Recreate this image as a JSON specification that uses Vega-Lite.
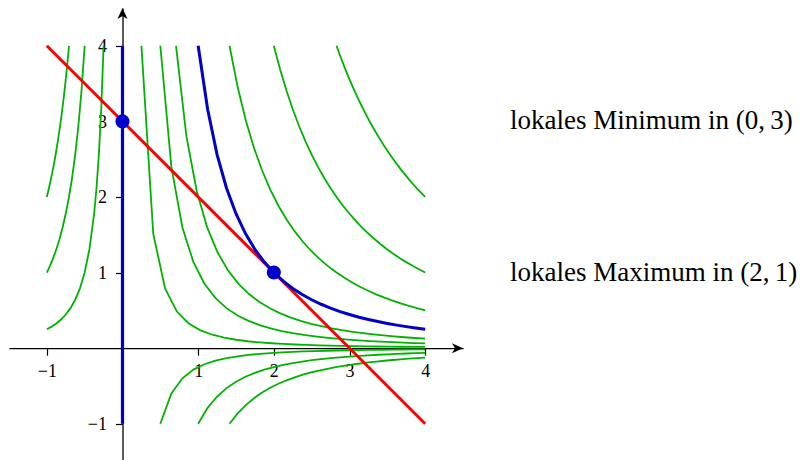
{
  "$schema": "https://vega.github.io/schema/vega-lite/v6.json",
  "width": 454,
  "height": 452,
  "autosize": {"type": "none"},
  "padding": {"left": 9, "top": 8, "right": 342, "bottom": 0},
  "background": "white",
  "config": {"view": {"stroke": null}, "font": "Liberation Serif"},
  "datasets": {
    "green": [
      {"id":"R0.25","x":0.25,"y":4},{"id":"R0.25","x":0.40625,"y":1.5148},{"id":"R0.25","x":0.5625,"y":0.7901},{"id":"R0.25","x":0.71875,"y":0.4839},{"id":"R0.25","x":0.875,"y":0.3265},{"id":"R0.25","x":1.03125,"y":0.2351},{"id":"R0.25","x":1.1875,"y":0.1773},{"id":"R0.25","x":1.34375,"y":0.1385},{"id":"R0.25","x":1.5,"y":0.1111},{"id":"R0.25","x":1.65625,"y":0.0911},{"id":"R0.25","x":1.8125,"y":0.0761},{"id":"R0.25","x":1.96875,"y":0.0645},{"id":"R0.25","x":2.125,"y":0.0554},{"id":"R0.25","x":2.28125,"y":0.048},{"id":"R0.25","x":2.4375,"y":0.0421},{"id":"R0.25","x":2.59375,"y":0.0372},{"id":"R0.25","x":2.75,"y":0.0331},{"id":"R0.25","x":2.90625,"y":0.0296},{"id":"R0.25","x":3.0625,"y":0.0267},{"id":"R0.25","x":3.21875,"y":0.0241},{"id":"R0.25","x":3.375,"y":0.0219},{"id":"R0.25","x":3.53125,"y":0.02},{"id":"R0.25","x":3.6875,"y":0.0184},{"id":"R0.25","x":3.84375,"y":0.0169},{"id":"R0.25","x":4,"y":0.0156},

      {"id":"R1","x":0.5,"y":4},{"id":"R1","x":0.6458,"y":2.3975},{"id":"R1","x":0.7917,"y":1.5956},{"id":"R1","x":0.9375,"y":1.1378},{"id":"R1","x":1.0833,"y":0.8521},{"id":"R1","x":1.2292,"y":0.6619},{"id":"R1","x":1.375,"y":0.5289},{"id":"R1","x":1.5208,"y":0.4323},{"id":"R1","x":1.6667,"y":0.36},{"id":"R1","x":1.8125,"y":0.3044},{"id":"R1","x":1.9583,"y":0.2608},{"id":"R1","x":2.1042,"y":0.2259},{"id":"R1","x":2.25,"y":0.1975},{"id":"R1","x":2.3958,"y":0.1742},{"id":"R1","x":2.5417,"y":0.1548},{"id":"R1","x":2.6875,"y":0.1385},{"id":"R1","x":2.8333,"y":0.1246},{"id":"R1","x":2.9792,"y":0.1127},{"id":"R1","x":3.125,"y":0.1024},{"id":"R1","x":3.2708,"y":0.0935},{"id":"R1","x":3.4167,"y":0.0857},{"id":"R1","x":3.5625,"y":0.0788},{"id":"R1","x":3.7083,"y":0.0727},{"id":"R1","x":3.8542,"y":0.0673},{"id":"R1","x":4,"y":0.0625},

      {"id":"N0.25","x":0.5,"y":-1},{"id":"N0.25","x":0.6458,"y":-0.5994},{"id":"N0.25","x":0.7917,"y":-0.3989},{"id":"N0.25","x":0.9375,"y":-0.2845},{"id":"N0.25","x":1.0833,"y":-0.213},{"id":"N0.25","x":1.2292,"y":-0.1655},{"id":"N0.25","x":1.375,"y":-0.1322},{"id":"N0.25","x":1.5208,"y":-0.1081},{"id":"N0.25","x":1.6667,"y":-0.09},{"id":"N0.25","x":1.8125,"y":-0.0761},{"id":"N0.25","x":1.9583,"y":-0.0652},{"id":"N0.25","x":2.1042,"y":-0.0565},{"id":"N0.25","x":2.25,"y":-0.0494},{"id":"N0.25","x":2.3958,"y":-0.0436},{"id":"N0.25","x":2.5417,"y":-0.0387},{"id":"N0.25","x":2.6875,"y":-0.0346},{"id":"N0.25","x":2.8333,"y":-0.0311},{"id":"N0.25","x":2.9792,"y":-0.0282},{"id":"N0.25","x":3.125,"y":-0.0256},{"id":"N0.25","x":3.2708,"y":-0.0234},{"id":"N0.25","x":3.4167,"y":-0.0214},{"id":"N0.25","x":3.5625,"y":-0.0197},{"id":"N0.25","x":3.7083,"y":-0.0182},{"id":"N0.25","x":3.8542,"y":-0.0168},{"id":"N0.25","x":4,"y":-0.0156},

      {"id":"R2","x":0.7071,"y":4},{"id":"R2","x":0.8443,"y":2.8056},{"id":"R2","x":0.9815,"y":2.076},{"id":"R2","x":1.1187,"y":1.598},{"id":"R2","x":1.2559,"y":1.2679},{"id":"R2","x":1.3931,"y":1.0305},{"id":"R2","x":1.5303,"y":0.854},{"id":"R2","x":1.6675,"y":0.7192},{"id":"R2","x":1.8047,"y":0.614},{"id":"R2","x":1.9419,"y":0.5303},{"id":"R2","x":2.0791,"y":0.4627},{"id":"R2","x":2.2164,"y":0.4072},{"id":"R2","x":2.3536,"y":0.3611},{"id":"R2","x":2.4908,"y":0.3224},{"id":"R2","x":2.628,"y":0.2896},{"id":"R2","x":2.7652,"y":0.2616},{"id":"R2","x":2.9024,"y":0.2374},{"id":"R2","x":3.0396,"y":0.2165},{"id":"R2","x":3.1768,"y":0.1982},{"id":"R2","x":3.314,"y":0.1821},{"id":"R2","x":3.4512,"y":0.1679},{"id":"R2","x":3.5884,"y":0.1553},{"id":"R2","x":3.7256,"y":0.1441},{"id":"R2","x":3.8628,"y":0.134},{"id":"R2","x":4,"y":0.125},

      {"id":"N1","x":1,"y":-1},{"id":"N1","x":1.125,"y":-0.7901},{"id":"N1","x":1.25,"y":-0.64},{"id":"N1","x":1.375,"y":-0.5289},{"id":"N1","x":1.5,"y":-0.4444},{"id":"N1","x":1.625,"y":-0.3787},{"id":"N1","x":1.75,"y":-0.3265},{"id":"N1","x":1.875,"y":-0.2844},{"id":"N1","x":2,"y":-0.25},{"id":"N1","x":2.125,"y":-0.2215},{"id":"N1","x":2.25,"y":-0.1975},{"id":"N1","x":2.375,"y":-0.1773},{"id":"N1","x":2.5,"y":-0.16},{"id":"N1","x":2.625,"y":-0.1451},{"id":"N1","x":2.75,"y":-0.1322},{"id":"N1","x":2.875,"y":-0.121},{"id":"N1","x":3,"y":-0.1111},{"id":"N1","x":3.125,"y":-0.1024},{"id":"N1","x":3.25,"y":-0.0947},{"id":"N1","x":3.375,"y":-0.0878},{"id":"N1","x":3.5,"y":-0.0816},{"id":"N1","x":3.625,"y":-0.0761},{"id":"N1","x":3.75,"y":-0.0711},{"id":"N1","x":3.875,"y":-0.0666},{"id":"N1","x":4,"y":-0.0625},

      {"id":"R8","x":1.4142,"y":4},{"id":"R8","x":1.522,"y":3.4537},{"id":"R8","x":1.6297,"y":3.0122},{"id":"R8","x":1.7374,"y":2.6502},{"id":"R8","x":1.8452,"y":2.3497},{"id":"R8","x":1.9529,"y":2.0976},{"id":"R8","x":2.0607,"y":1.884},{"id":"R8","x":2.1684,"y":1.7014},{"id":"R8","x":2.2761,"y":1.5442},{"id":"R8","x":2.3839,"y":1.4077},{"id":"R8","x":2.4916,"y":1.2886},{"id":"R8","x":2.5994,"y":1.184},{"id":"R8","x":2.7071,"y":1.0916},{"id":"R8","x":2.8149,"y":1.0097},{"id":"R8","x":2.9226,"y":0.9366},{"id":"R8","x":3.0303,"y":0.8712},{"id":"R8","x":3.1381,"y":0.8124},{"id":"R8","x":3.2458,"y":0.7594},{"id":"R8","x":3.3536,"y":0.7113},{"id":"R8","x":3.4613,"y":0.6677},{"id":"R8","x":3.569,"y":0.628},{"id":"R8","x":3.6768,"y":0.5918},{"id":"R8","x":3.7845,"y":0.5586},{"id":"R8","x":3.8923,"y":0.5281},{"id":"R8","x":4,"y":0.5},

      {"id":"N2","x":1.4142,"y":-1},{"id":"N2","x":1.522,"y":-0.8634},{"id":"N2","x":1.6297,"y":-0.753},{"id":"N2","x":1.7374,"y":-0.6625},{"id":"N2","x":1.8452,"y":-0.5874},{"id":"N2","x":1.9529,"y":-0.5244},{"id":"N2","x":2.0607,"y":-0.471},{"id":"N2","x":2.1684,"y":-0.4254},{"id":"N2","x":2.2761,"y":-0.386},{"id":"N2","x":2.3839,"y":-0.3519},{"id":"N2","x":2.4916,"y":-0.3222},{"id":"N2","x":2.5994,"y":-0.296},{"id":"N2","x":2.7071,"y":-0.2729},{"id":"N2","x":2.8149,"y":-0.2524},{"id":"N2","x":2.9226,"y":-0.2342},{"id":"N2","x":3.0303,"y":-0.2178},{"id":"N2","x":3.1381,"y":-0.2031},{"id":"N2","x":3.2458,"y":-0.1898},{"id":"N2","x":3.3536,"y":-0.1778},{"id":"N2","x":3.4613,"y":-0.1669},{"id":"N2","x":3.569,"y":-0.157},{"id":"N2","x":3.6768,"y":-0.1479},{"id":"N2","x":3.7845,"y":-0.1396},{"id":"N2","x":3.8923,"y":-0.132},{"id":"N2","x":4,"y":-0.125},

      {"id":"R16","x":2,"y":4},{"id":"R16","x":2.0833,"y":3.6864},{"id":"R16","x":2.1667,"y":3.4083},{"id":"R16","x":2.25,"y":3.1605},{"id":"R16","x":2.3333,"y":2.9388},{"id":"R16","x":2.4167,"y":2.7396},{"id":"R16","x":2.5,"y":2.56},{"id":"R16","x":2.5833,"y":2.3975},{"id":"R16","x":2.6667,"y":2.25},{"id":"R16","x":2.75,"y":2.1157},{"id":"R16","x":2.8333,"y":1.9931},{"id":"R16","x":2.9167,"y":1.8808},{"id":"R16","x":3,"y":1.7778},{"id":"R16","x":3.0833,"y":1.683},{"id":"R16","x":3.1667,"y":1.5956},{"id":"R16","x":3.25,"y":1.5148},{"id":"R16","x":3.3333,"y":1.44},{"id":"R16","x":3.4167,"y":1.3706},{"id":"R16","x":3.5,"y":1.3061},{"id":"R16","x":3.5833,"y":1.2461},{"id":"R16","x":3.6667,"y":1.1901},{"id":"R16","x":3.75,"y":1.1378},{"id":"R16","x":3.8333,"y":1.0888},{"id":"R16","x":3.9167,"y":1.043},{"id":"R16","x":4,"y":1},

      {"id":"R32","x":2.8284,"y":4},{"id":"R32","x":2.8773,"y":3.8654},{"id":"R32","x":2.9261,"y":3.7375},{"id":"R32","x":2.9749,"y":3.6159},{"id":"R32","x":3.0237,"y":3.5001},{"id":"R32","x":3.0725,"y":3.3897},{"id":"R32","x":3.1213,"y":3.2845},{"id":"R32","x":3.1701,"y":3.1841},{"id":"R32","x":3.219,"y":3.0883},{"id":"R32","x":3.2678,"y":2.9967},{"id":"R32","x":3.3166,"y":2.9092},{"id":"R32","x":3.3654,"y":2.8254},{"id":"R32","x":3.4142,"y":2.7452},{"id":"R32","x":3.463,"y":2.6683},{"id":"R32","x":3.5118,"y":2.5946},{"id":"R32","x":3.5607,"y":2.524},{"id":"R32","x":3.6095,"y":2.4562},{"id":"R32","x":3.6583,"y":2.3911},{"id":"R32","x":3.7071,"y":2.3285},{"id":"R32","x":3.7559,"y":2.2684},{"id":"R32","x":3.8047,"y":2.2106},{"id":"R32","x":3.8536,"y":2.1549},{"id":"R32","x":3.9024,"y":2.1013},{"id":"R32","x":3.9512,"y":2.0497},{"id":"R32","x":4,"y":2},

      {"id":"L0.25","x":-1,"y":0.25},{"id":"L0.25","x":-0.9375,"y":0.2844},{"id":"L0.25","x":-0.875,"y":0.3265},{"id":"L0.25","x":-0.8125,"y":0.3787},{"id":"L0.25","x":-0.75,"y":0.4444},{"id":"L0.25","x":-0.6875,"y":0.5289},{"id":"L0.25","x":-0.625,"y":0.64},{"id":"L0.25","x":-0.5625,"y":0.7901},{"id":"L0.25","x":-0.5,"y":1},{"id":"L0.25","x":-0.4375,"y":1.3061},{"id":"L0.25","x":-0.375,"y":1.7778},{"id":"L0.25","x":-0.34375,"y":2.1157},{"id":"L0.25","x":-0.3125,"y":2.56},{"id":"L0.25","x":-0.28125,"y":3.1605},{"id":"L0.25","x":-0.25,"y":4},

      {"id":"L1","x":-1,"y":1},{"id":"L1","x":-0.9583,"y":1.0888},{"id":"L1","x":-0.9167,"y":1.1901},{"id":"L1","x":-0.875,"y":1.3061},{"id":"L1","x":-0.8333,"y":1.44},{"id":"L1","x":-0.7917,"y":1.5956},{"id":"L1","x":-0.75,"y":1.7778},{"id":"L1","x":-0.7083,"y":1.9931},{"id":"L1","x":-0.6667,"y":2.25},{"id":"L1","x":-0.625,"y":2.56},{"id":"L1","x":-0.5833,"y":2.9388},{"id":"L1","x":-0.5417,"y":3.4083},{"id":"L1","x":-0.5,"y":4},

      {"id":"L2","x":-1,"y":2},{"id":"L2","x":-0.9756,"y":2.1013},{"id":"L2","x":-0.9512,"y":2.2106},{"id":"L2","x":-0.9268,"y":2.3285},{"id":"L2","x":-0.9024,"y":2.4562},{"id":"L2","x":-0.878,"y":2.5947},{"id":"L2","x":-0.8536,"y":2.7452},{"id":"L2","x":-0.8291,"y":2.9092},{"id":"L2","x":-0.8047,"y":3.0883},{"id":"L2","x":-0.7803,"y":3.2846},{"id":"L2","x":-0.7559,"y":3.5001},{"id":"L2","x":-0.7315,"y":3.7376},{"id":"L2","x":-0.7071,"y":4}
    ],
    "blue": [
      {"x":1,"y":4},{"x":1.125,"y":3.1605},{"x":1.25,"y":2.56},{"x":1.375,"y":2.1157},{"x":1.5,"y":1.7778},{"x":1.625,"y":1.5148},{"x":1.75,"y":1.3061},{"x":1.875,"y":1.1378},{"x":2,"y":1},{"x":2.125,"y":0.8858},{"x":2.25,"y":0.7901},{"x":2.375,"y":0.7091},{"x":2.5,"y":0.64},{"x":2.625,"y":0.5805},{"x":2.75,"y":0.5289},{"x":2.875,"y":0.4839},{"x":3,"y":0.4444},{"x":3.125,"y":0.4096},{"x":3.25,"y":0.3787},{"x":3.375,"y":0.3512},{"x":3.5,"y":0.3265},{"x":3.625,"y":0.3044},{"x":3.75,"y":0.2844},{"x":3.875,"y":0.2664},{"x":4,"y":0.25}
    ],
    "red": [{"x":-1,"y":4},{"x":4,"y":-1}],
    "vline": [{"x":0,"y":-1,"y2":4}],
    "dots": [{"x":0,"y":3},{"x":2,"y":1}],
    "arrows": [{"x":4.5,"y":0,"s":"right"},{"x":0,"y":4.5,"s":"up"}],
    "labels": [
      {"x":5.12,"y":3,"t":"lokales Minimum in (0,\u20093)"},
      {"x":5.12,"y":1,"t":"lokales Maximum in (2,\u20091)"}
    ]
  },
  "layer": [
    {
      "data": {"name": "green"},
      "mark": {"type": "line", "color": "#00b300", "strokeWidth": 1.8},
      "encoding": {
        "x": {"field": "x", "type": "quantitative", "title": null,
          "scale": {"domain": [-1.5, 4.5], "nice": false, "zero": false},
          "axis": {"orient": "bottom", "offset": -111.87, "values": [-1, 1, 2, 3, 4], "format": "d", "grid": false,
            "domainColor": "black", "domainWidth": 1.3, "tickColor": "black", "tickWidth": 1.2, "tickSize": 7,
            "labelFont": "Liberation Serif", "labelFontSize": 18, "labelColor": "black", "labelPadding": 7,
            "labelFlush": false, "labelOverlap": false, "title": null}},
        "y": {"field": "y", "type": "quantitative", "title": null,
          "scale": {"domain": [-1.48, 4.5], "nice": false, "zero": false},
          "axis": {"orient": "left", "offset": -113.5, "values": [-1, 1, 2, 3, 4], "format": "d", "grid": false,
            "domainColor": "black", "domainWidth": 1.3, "tickColor": "black", "tickWidth": 1.2, "tickSize": 7,
            "labelFont": "Liberation Serif", "labelFontSize": 18, "labelColor": "black", "labelPadding": 9,
            "labelOffset": 1, "labelFlush": false, "labelOverlap": false, "title": null}},
        "detail": {"field": "id"}
      }
    },
    {
      "data": {"name": "red"},
      "mark": {"type": "line", "color": "#ff0000", "strokeWidth": 3},
      "encoding": {
        "x": {"field": "x", "type": "quantitative", "title": null},
        "y": {"field": "y", "type": "quantitative", "title": null}
      }
    },
    {
      "data": {"name": "vline"},
      "mark": {"type": "rule", "color": "#0000cc", "strokeWidth": 3.2},
      "encoding": {
        "x": {"field": "x", "type": "quantitative", "title": null},
        "y": {"field": "y", "type": "quantitative", "title": null},
        "y2": {"field": "y2"}
      }
    },
    {
      "data": {"name": "blue"},
      "mark": {"type": "line", "color": "#0000cc", "strokeWidth": 3},
      "encoding": {
        "x": {"field": "x", "type": "quantitative", "title": null},
        "y": {"field": "y", "type": "quantitative", "title": null}
      }
    },
    {
      "data": {"name": "dots"},
      "mark": {"type": "point", "filled": true, "shape": "circle", "color": "#0000cc", "opacity": 1, "size": 200},
      "encoding": {
        "x": {"field": "x", "type": "quantitative", "title": null},
        "y": {"field": "y", "type": "quantitative", "title": null}
      }
    },
    {
      "data": {"name": "arrows"},
      "mark": {"type": "point", "filled": true, "color": "black", "opacity": 1, "size": 100, "strokeWidth": 0},
      "encoding": {
        "x": {"field": "x", "type": "quantitative", "title": null},
        "y": {"field": "y", "type": "quantitative", "title": null},
        "shape": {"field": "s", "type": "nominal", "legend": null,
          "scale": {"domain": ["right", "up"], "range": ["M0,0L-2.2,-1L-1.6,0L-2.2,1Z", "M0,0L-1,2.2L0,1.6L1,2.2Z"]}}
      }
    },
    {
      "data": {"name": "labels"},
      "mark": {"type": "text", "align": "left", "baseline": "middle", "font": "Liberation Serif", "fontSize": 27, "color": "black"},
      "encoding": {
        "x": {"field": "x", "type": "quantitative", "title": null},
        "y": {"field": "y", "type": "quantitative", "title": null},
        "text": {"field": "t"}
      }
    }
  ]
}
